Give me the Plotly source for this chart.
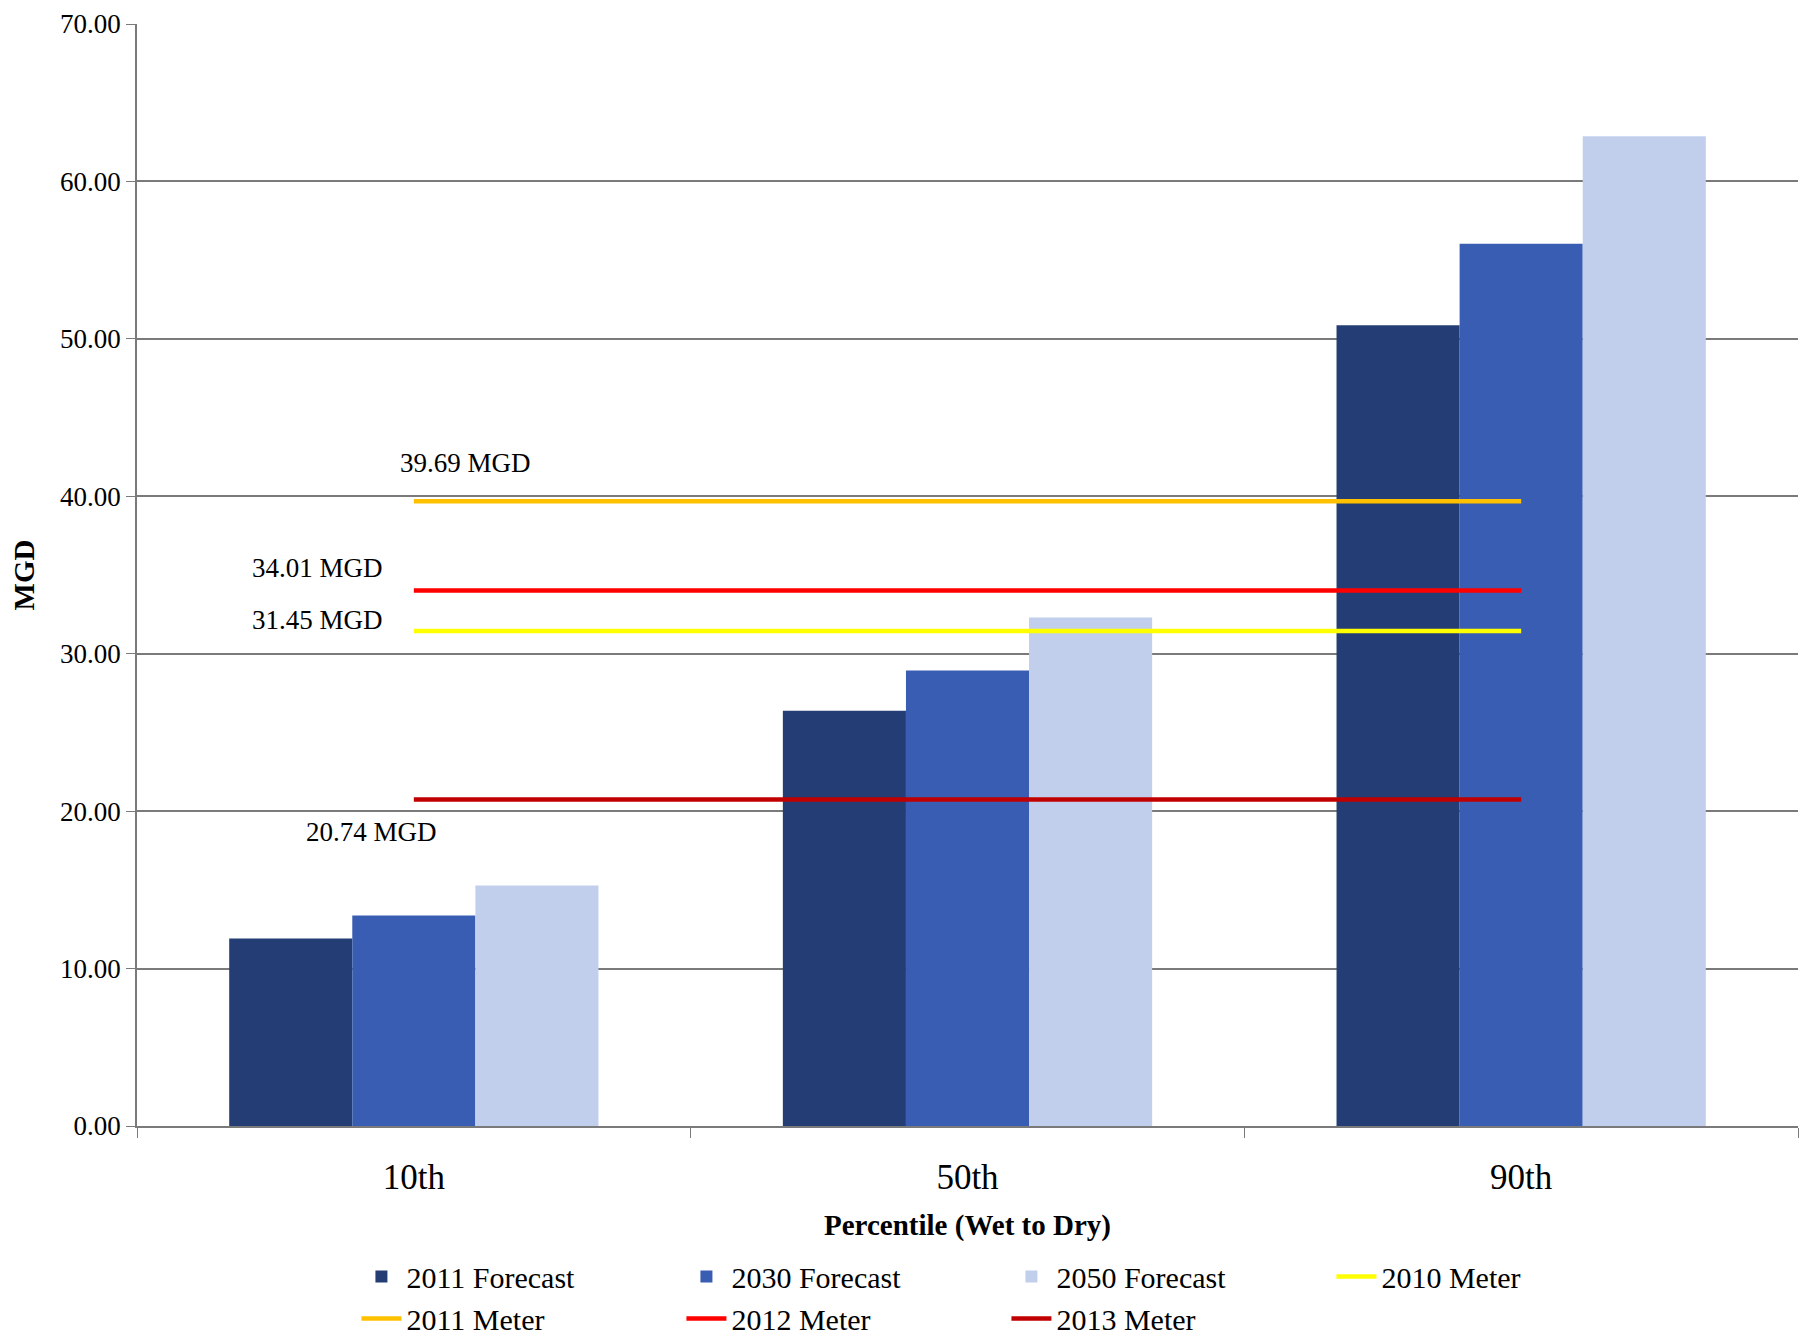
import plotly.graph_objects as go

categories = ["10th", "50th", "90th"]
forecast_2011 = [11.91, 26.38, 50.87]
forecast_2030 = [13.37, 28.93, 56.04]
forecast_2050 = [15.27, 32.30, 62.87]

meter_names = ["2010 Meter", "2011 Meter", "2012 Meter", "2013 Meter"]
meter_values = [31.45, 39.69, 34.01, 20.74]
meter_colors = ["#FFFF00", "#FFC000", "#FF0000", "#C00000"]

y_ticks = [0, 10, 20, 30, 40, 50, 60, 70]

FONT = "Palatino Linotype, Book Antiqua, Palatino, Liberation Serif, serif"

fig = go.Figure()

bar_series = [
    ("2011 Forecast", forecast_2011, "#243E75"),
    ("2030 Forecast", forecast_2030, "#385DB2"),
    ("2050 Forecast", forecast_2050, "#C2CFEC"),
]
for name, vals, col in bar_series:
    fig.add_trace(go.Bar(x=categories, y=vals, name=name,
                         marker=dict(color=col, line=dict(width=0)),
                         legend="legend"))

for name, val, col in zip(meter_names, meter_values, meter_colors):
    fig.add_trace(go.Scatter(x=categories, y=[val] * len(categories), name=name,
                             mode="lines", line=dict(color=col, width=4.5),
                             legend="legend" if name == "2010 Meter" else "legend2"))

# labels for meter lines
label_pos = {
    "2011 Meter": (0.1975, 42.13),
    "2012 Meter": (0.1087, 35.42),
    "2010 Meter": (0.1087, 32.13),
    "2013 Meter": (0.1409, 18.65),
}
for name, val in zip(meter_names, meter_values):
    px_, py_ = label_pos[name]
    fig.add_annotation(x=px_, xref="paper", y=py_, yref="y",
                       text=f"{val:.2f} MGD", showarrow=False,
                       font=dict(family=FONT, size=27, color="#000000"),
                       xanchor="center", yanchor="middle")

fig.update_layout(
    width=1796, height=1332,
    margin=dict(l=129, r=6, t=16, b=214, autoexpand=False),
    paper_bgcolor="white", plot_bgcolor="white",
    barmode="group", bargap=0.333, bargroupgap=0,
    font=dict(family=FONT, color="#000000"),
    legend=dict(orientation="h", xref="container", yref="container",
                x=0.194, y=0.0671, xanchor="left", yanchor="top",
                entrywidth=270, entrywidthmode="pixels",
                font=dict(family=FONT, size=30), traceorder="normal",
                itemwidth=40, tracegroupgap=0),
    legend2=dict(orientation="h", xref="container", yref="container",
                 x=0.194, y=0.0357, xanchor="left", yanchor="top",
                 entrywidth=270, entrywidthmode="pixels",
                 font=dict(family=FONT, size=30), traceorder="normal",
                 itemwidth=40, tracegroupgap=0),
    showlegend=True,
)

fig.update_yaxes(range=[0, 70], tickvals=y_ticks, tickformat=".2f",
                 automargin=False, ticklabeloverflow="allow",
                 showgrid=True, gridcolor="#7A7A7A", gridwidth=1.5,
                 showline=True, linecolor="#7A7A7A", linewidth=1.5,
                 ticks="outside", ticklen=9, tickcolor="#7A7A7A",
                 tickfont=dict(family=FONT, size=27),
                 zeroline=False,
                 title=dict(text="<b>MGD</b>", font=dict(family=FONT, size=29), standoff=21))

fig.update_xaxes(automargin=False, ticklabeloverflow="allow",
                 showline=True, linecolor="#7A7A7A", linewidth=1.5,
                 ticks="outside", tickson="boundaries", ticklen=10, tickcolor="#7A7A7A",
                 tickfont=dict(family=FONT, size=35), ticklabelstandoff=19,
                 title=dict(text="<b>Percentile (Wet to Dry)</b>",
                            font=dict(family=FONT, size=29), standoff=19))

fig.write_html("out.html")
